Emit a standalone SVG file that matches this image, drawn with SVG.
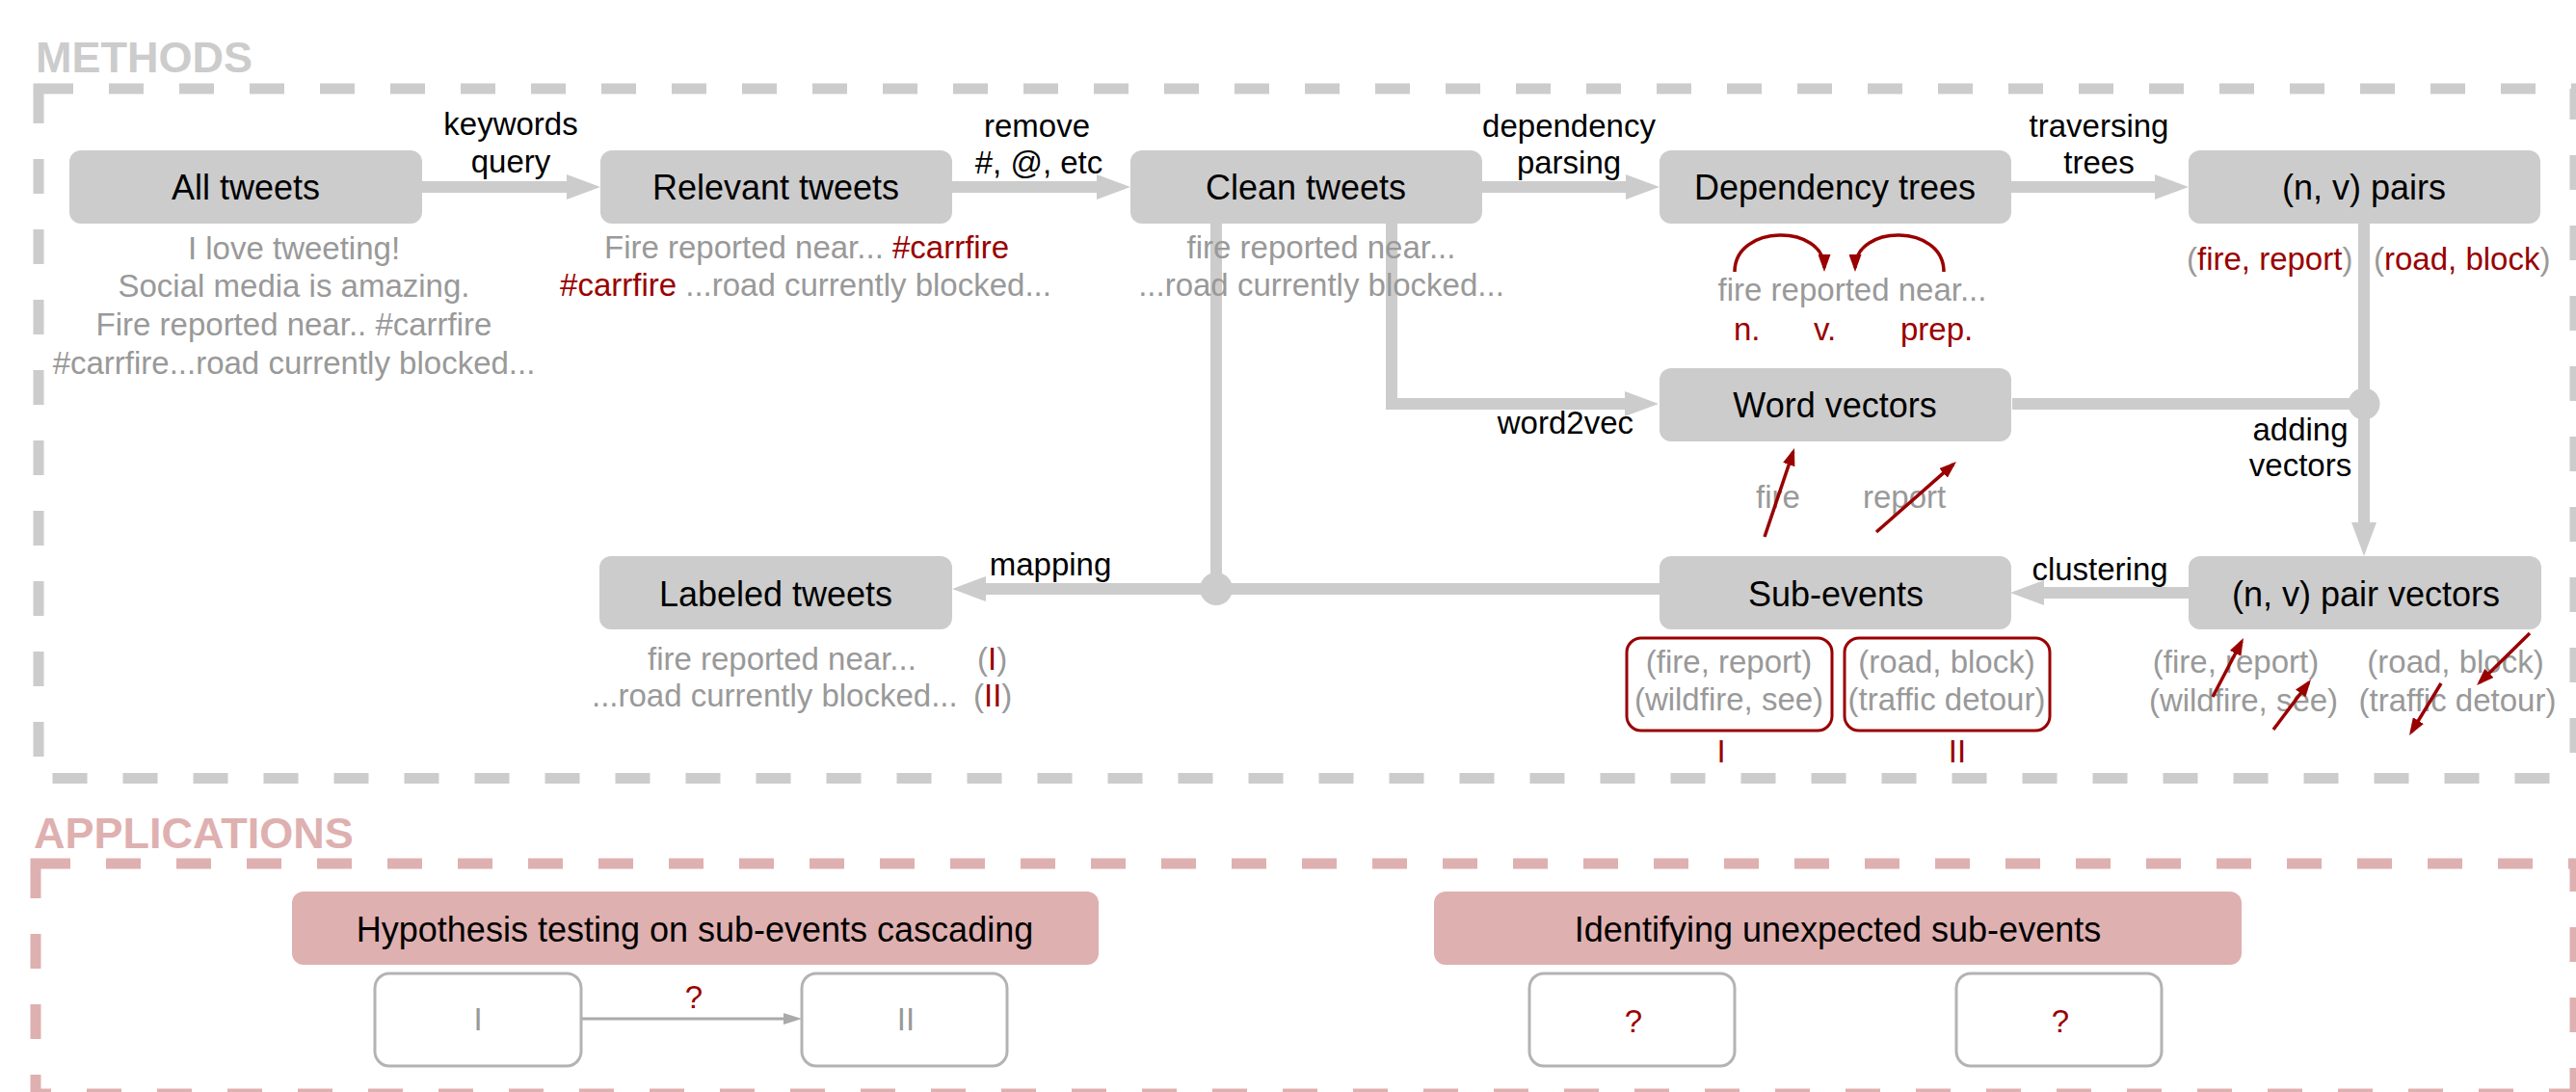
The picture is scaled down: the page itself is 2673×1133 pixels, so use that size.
<svg xmlns="http://www.w3.org/2000/svg" width="2673" height="1133" viewBox="0 0 2673 1133">
<defs>
<style>
text{font-family:"Liberation Sans",Arial,Helvetica,sans-serif}
.sec{font-size:45px;font-weight:bold}
.node{fill:#cccccc}
.nt{font-size:36px;fill:#000;text-anchor:middle}
.lbl{font-size:33px;fill:#000}
.sub{font-size:33px;fill:#999999}
.red{fill:#990000}
.gray{fill:#999999}
.conn{stroke:#cccccc;stroke-width:12;fill:none}
.vec{stroke:#990000;stroke-width:3.5;fill:none}
.dashG{stroke:#cccccc;stroke-width:11;fill:none;stroke-dasharray:36 37}
.dashP{stroke:#dfb0b0;stroke-width:11;fill:none;stroke-dasharray:36 37}
.pink{fill:#dfb0b0}
.small{fill:#fff;stroke:#b3b3b3;stroke-width:3}
.grp{fill:none;stroke:#990000;stroke-width:3}
</style>
<marker id="ah" viewBox="0 0 35 26" refX="0" refY="13" markerWidth="35" markerHeight="26" markerUnits="userSpaceOnUse" orient="auto">
<path d="M0,0 L35,13 L0,26 z" fill="#cccccc"/>
</marker>
<marker id="rh" viewBox="0 0 18 13" refX="14" refY="6.5" markerWidth="18" markerHeight="13" markerUnits="userSpaceOnUse" orient="auto">
<path d="M0,0 L18,6.5 L0,13 z" fill="#990000"/>
</marker>
<marker id="gh" viewBox="0 0 19 12" refX="0" refY="6" markerWidth="19" markerHeight="12" markerUnits="userSpaceOnUse" orient="auto">
<path d="M0,0 L19,6 L0,12 z" fill="#aaaaaa"/>
</marker>
</defs>
<rect width="2673" height="1133" fill="#ffffff"/>

<!-- section frames -->
<g id="methods-frame">
<text class="sec" x="37" y="75" fill="#cccccc">METHODS</text>
<path class="dashG" d="M40,92 H2672 V807.5"/>
<path class="dashG" d="M40,92 V807.5 H2672"/>
<rect x="34.5" y="86.5" width="6" height="6" fill="#cccccc"/>
</g>
<g id="applications-frame">
<text class="sec" x="35" y="880" fill="#dfb0b0">APPLICATIONS</text>
<path class="dashP" d="M37,896 H2672 V1135"/>
<path class="dashP" d="M37,896 V1135 H2672"/>
<rect x="31.5" y="890.5" width="6" height="6" fill="#dfb0b0"/>
</g>

<!-- connectors -->
<g id="connectors">
<path class="conn" d="M438,194 H588" marker-end="url(#ah)"/>
<path class="conn" d="M987,194 H1138" marker-end="url(#ah)"/>
<path class="conn" d="M1537,194 H1687" marker-end="url(#ah)"/>
<path class="conn" d="M2087,194 H2236" marker-end="url(#ah)"/>
<path class="conn" d="M1444,232 V419 H1686" marker-end="url(#ah)"/>
<path class="conn" d="M1262,232 V611"/>
<path class="conn" d="M1722,611 H1023" marker-end="url(#ah)"/>
<circle cx="1262" cy="611" r="17" fill="#cccccc"/>
<path class="conn" d="M2088,419 H2453"/>
<path class="conn" d="M2453,232 V542" marker-end="url(#ah)"/>
<circle cx="2453" cy="419" r="16.5" fill="#cccccc"/>
<path class="conn" d="M2271,615 H2121" marker-end="url(#ah)"/>
<path d="M603,1057 H813" stroke="#aaaaaa" stroke-width="3" fill="none" marker-end="url(#gh)"/>
</g>

<!-- connector labels -->
<g id="connector-labels">
<text class="lbl" x="530" y="140" text-anchor="middle">keywords</text>
<text class="lbl" x="530" y="179" text-anchor="middle">query</text>
<text class="lbl" x="1076" y="142" text-anchor="middle">remove</text>
<text class="lbl" x="1078" y="180" text-anchor="middle">#, @, etc</text>
<text class="lbl" x="1628" y="142" text-anchor="middle">dependency</text>
<text class="lbl" x="1628" y="180" text-anchor="middle">parsing</text>
<text class="lbl" x="2178" y="142" text-anchor="middle">traversing</text>
<text class="lbl" x="2178" y="180" text-anchor="middle">trees</text>
<text class="lbl" x="1695" y="450" text-anchor="end">word2vec</text>
<text class="lbl" x="2387" y="457" text-anchor="middle">adding</text>
<text class="lbl" x="2387" y="494" text-anchor="middle">vectors</text>
<text class="lbl" x="2179" y="602" text-anchor="middle">clustering</text>
<text class="lbl" x="1090" y="597" text-anchor="middle">mapping</text>
<text class="lbl red" x="720" y="1046" text-anchor="middle">?</text>
</g>

<g id="node-all-tweets">
<rect class="node" x="72" y="156" width="366" height="76" rx="12"/>
<text class="nt" x="255" y="207">All tweets</text>
<text class="sub" x="305" y="269" text-anchor="middle">I love tweeting!</text>
<text class="sub" x="305" y="308" text-anchor="middle">Social media is amazing.</text>
<text class="sub" x="305" y="348" text-anchor="middle">Fire reported near.. #carrfire</text>
<text class="sub" x="305" y="388" text-anchor="middle">#carrfire...road currently blocked...</text>
</g>

<g id="node-relevant-tweets">
<rect class="node" x="623" y="156" width="365" height="76" rx="12"/>
<text class="nt" x="805" y="207">Relevant tweets</text>
<text class="sub" x="837" y="268" text-anchor="middle">Fire reported near... <tspan class="red">#carrfire</tspan></text>
<text class="sub" x="836" y="307" text-anchor="middle"><tspan class="red">#carrfire</tspan> ...road currently blocked...</text>
</g>

<g id="node-clean-tweets">
<rect class="node" x="1173" y="156" width="365" height="76" rx="12"/>
<text class="nt" x="1355" y="207">Clean tweets</text>
<text class="sub" x="1371" y="268" text-anchor="middle">fire reported near...</text>
<text class="sub" x="1371" y="307" text-anchor="middle">...road currently blocked...</text>
</g>

<g id="node-dependency-trees">
<rect class="node" x="1722" y="156" width="365" height="76" rx="12"/>
<text class="nt" x="1904" y="207">Dependency trees</text>
<path class="vec" d="M1800,282 C1800,232 1893,232 1893,278" stroke-width="3" marker-end="url(#rh)"/>
<path class="vec" d="M2017,282 C2017,232 1925,232 1925,278" stroke-width="3" marker-end="url(#rh)"/>
<text class="sub" x="1922" y="312" text-anchor="middle">fire reported near...</text>
<text class="sub red" x="1799" y="353">n.</text>
<text class="sub red" x="1882" y="353">v.</text>
<text class="sub red" x="1972" y="353">prep.</text>
</g>

<g id="node-nv-pairs">
<rect class="node" x="2271" y="156" width="365" height="76" rx="12"/>
<text class="nt" x="2453" y="207">(n, v) pairs</text>
<text class="sub" x="2269" y="280">(<tspan class="red">fire, report</tspan>)</text>
<text class="sub" x="2463" y="280">(<tspan class="red">road, block</tspan>)</text>
</g>

<g id="node-word-vectors">
<rect class="node" x="1722" y="382" width="365" height="76" rx="12"/>
<text class="nt" x="1904" y="433">Word vectors</text>
<text class="sub" x="1822" y="527">fire</text>
<text class="sub" x="1933" y="527">report</text>
<path class="vec" d="M1831,557 L1860.7,468.8" marker-end="url(#rh)"/>
<path class="vec" d="M1947,552 L2027,481.6" marker-end="url(#rh)"/>
</g>

<g id="node-labeled-tweets">
<rect class="node" x="622" y="577" width="366" height="76" rx="12"/>
<text class="nt" x="805" y="629">Labeled tweets</text>
<text class="sub" x="672" y="695">fire reported near...</text>
<text class="sub" x="1014" y="695">(<tspan class="red">I</tspan>)</text>
<text class="sub" x="614" y="733">...road currently blocked...</text>
<text class="sub" x="1010" y="733">(<tspan class="red">II</tspan>)</text>
</g>

<g id="node-sub-events">
<rect class="node" x="1722" y="577" width="365" height="76" rx="12"/>
<text class="nt" x="1905" y="629">Sub-events</text>
<rect class="grp" x="1688" y="662" width="213" height="96" rx="15"/>
<rect class="grp" x="1914" y="662" width="213" height="96" rx="15"/>
<text class="sub" x="1794" y="698" text-anchor="middle">(fire, report)</text>
<text class="sub" x="1794" y="737" text-anchor="middle">(wildfire, see)</text>
<text class="sub" x="2020" y="698" text-anchor="middle">(road, block)</text>
<text class="sub" x="2020" y="737" text-anchor="middle">(traffic detour)</text>
<text class="sub red" x="1786" y="791" text-anchor="middle">I</text>
<text class="sub red" x="2031" y="791" text-anchor="middle">II</text>
</g>

<g id="node-nv-pair-vectors">
<rect class="node" x="2271" y="577" width="366" height="76" rx="12"/>
<text class="nt" x="2455" y="629">(n, v) pair vectors</text>
<text class="sub" x="2320" y="698" text-anchor="middle">(fire, report)</text>
<text class="sub" x="2328" y="738" text-anchor="middle">(wildfire, see)</text>
<text class="sub" x="2548" y="698" text-anchor="middle">(road, block)</text>
<text class="sub" x="2550" y="738" text-anchor="middle">(traffic detour)</text>
<path class="vec" d="M2296,723 L2326.1,665.5" marker-end="url(#rh)"/>
<path class="vec" d="M2359,757 L2395.6,708.2" marker-end="url(#rh)"/>
<path class="vec" d="M2625,657 L2572.9,708.2" marker-end="url(#rh)"/>
<path class="vec" d="M2533,709 L2502.1,759.6" marker-end="url(#rh)"/>
</g>

<g id="node-hypothesis">
<rect class="pink" x="303" y="925" width="837" height="76" rx="12"/>
<text class="nt" x="721" y="977">Hypothesis testing on sub-events cascading</text>
</g>
<g id="node-box-I">
<rect class="small" x="389" y="1010" width="214" height="96" rx="15"/>
<text class="sub" x="496" y="1069" text-anchor="middle" fill="#aaaaaa">I</text>
</g>
<g id="node-box-II">
<rect class="small" x="832" y="1010" width="213" height="96" rx="15"/>
<text class="sub" x="940" y="1069" text-anchor="middle" fill="#aaaaaa">II</text>
</g>

<g id="node-identifying">
<rect class="pink" x="1488" y="925" width="838" height="76" rx="12"/>
<text class="nt" x="1907" y="977">Identifying unexpected sub-events</text>
</g>
<g id="node-box-q1">
<rect class="small" x="1587" y="1010" width="213" height="96" rx="15"/>
<text class="sub red" x="1695" y="1071" text-anchor="middle">?</text>
</g>
<g id="node-box-q2">
<rect class="small" x="2030" y="1010" width="213" height="96" rx="15"/>
<text class="sub red" x="2138" y="1071" text-anchor="middle">?</text>
</g>
</svg>
